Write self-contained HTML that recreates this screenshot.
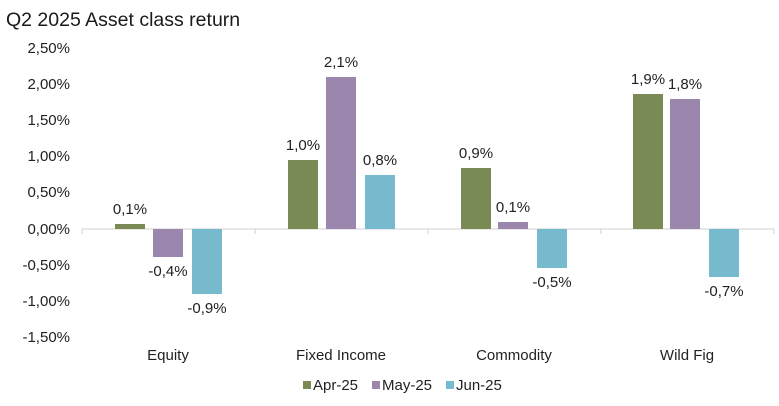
<!DOCTYPE html>
<html><head><style>
body{margin:0;background:#fff;}
svg text{font-family:"Liberation Sans",Arial,sans-serif;fill:#222;}
</style></head><body>
<svg width="779" height="401" viewBox="0 0 779 401" xmlns="http://www.w3.org/2000/svg">
<text x="6" y="26" font-size="19.5" style="fill:#1a1a1a">Q2 2025 Asset class return</text>
<g font-size="15" text-anchor="end">
<text x="70" y="53">2,50%</text>
<text x="70" y="89">2,00%</text>
<text x="70" y="125">1,50%</text>
<text x="70" y="161">1,00%</text>
<text x="70" y="197">0,50%</text>
<text x="70" y="234">0,00%</text>
<text x="70" y="270">-0,50%</text>
<text x="70" y="306">-1,00%</text>
<text x="70" y="342">-1,50%</text>
</g>
<line x1="82" y1="229" x2="774" y2="229" stroke="#d0d0d0" stroke-width="1"/>
<g stroke="#d0d0d0"><line x1="82" y1="229" x2="82" y2="234"/><line x1="255" y1="229" x2="255" y2="234"/><line x1="428" y1="229" x2="428" y2="234"/><line x1="601" y1="229" x2="601" y2="234"/><line x1="774" y1="229" x2="774" y2="234"/></g>
<g>
<rect x="115" y="224" width="30" height="5" fill="#7a8a55"/>
<rect x="153" y="229" width="30" height="28" fill="#9b86ad"/>
<rect x="192" y="229" width="30" height="65" fill="#78bacd"/>
<rect x="288" y="160" width="30" height="69" fill="#7a8a55"/>
<rect x="326" y="77" width="30" height="152" fill="#9b86ad"/>
<rect x="365" y="175" width="30" height="54" fill="#78bacd"/>
<rect x="461" y="168" width="30" height="61" fill="#7a8a55"/>
<rect x="498" y="222" width="30" height="7" fill="#9b86ad"/>
<rect x="537" y="229" width="30" height="39" fill="#78bacd"/>
<rect x="633" y="94" width="30" height="135" fill="#7a8a55"/>
<rect x="670" y="99" width="30" height="130" fill="#9b86ad"/>
<rect x="709" y="229" width="30" height="48" fill="#78bacd"/>
</g>
<g font-size="15" text-anchor="middle">
<text x="130" y="214">0,1%</text>
<text x="168" y="276">-0,4%</text>
<text x="207" y="313">-0,9%</text>
<text x="303" y="150">1,0%</text>
<text x="341" y="67">2,1%</text>
<text x="380" y="165">0,8%</text>
<text x="476" y="158">0,9%</text>
<text x="513" y="212">0,1%</text>
<text x="552" y="287">-0,5%</text>
<text x="648" y="84">1,9%</text>
<text x="685" y="89">1,8%</text>
<text x="724" y="296">-0,7%</text>
<text x="168" y="360">Equity</text>
<text x="341" y="360">Fixed Income</text>
<text x="514" y="360">Commodity</text>
<text x="687" y="360">Wild Fig</text>
</g>
<g font-size="15">
<rect x="303" y="381" width="8" height="8" fill="#7a8a55"/><text x="313" y="390">Apr-25</text>
<rect x="372" y="381" width="8" height="8" fill="#9b86ad"/><text x="382" y="390">May-25</text>
<rect x="446" y="381" width="8" height="8" fill="#78bacd"/><text x="456" y="390">Jun-25</text>
</g>
</svg>
</body></html>
